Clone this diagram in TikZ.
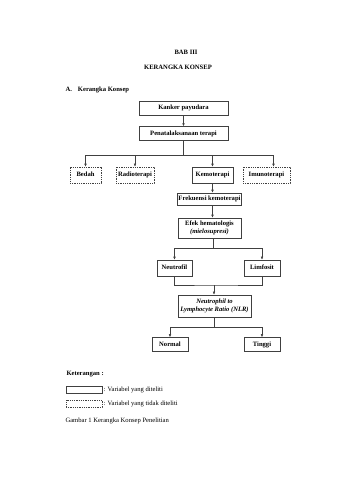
\documentclass[tikz,border=0pt]{standalone}
\usepackage{fontspec}
\setmainfont{Liberation Serif}
\usepackage{tikz}
\usetikzlibrary{arrows.meta,positioning}

\begin{document}
\begin{tikzpicture}[
x=1pt, y=-1pt,
font=\fontsize{6.6}{7.6}\selectfont,
box/.style={
rectangle,
draw=black!75,
line width=0.6pt,
inner sep=1pt,
minimum width=#1,
minimum height=15pt,
text height=4.6pt,
text depth=1.4pt,
align=center,
font=\fontsize{6.6}{7.6}\selectfont\bfseries
},
box/.default=40pt,
dbox/.style={
box=#1,
dash pattern=on 1pt off 0.8pt
},
dbox/.default=40pt,
twolines/.style={text height={}, text depth={}},
line/.style={draw=black!75, line width=0.45pt},
arrow/.style={line, -{Latex[length=3pt,width=2.6pt]}}
]
\useasboundingbox (0,0) rectangle (339,480);

% headings
\node[font=\fontsize{6.6}{7.6}\selectfont\bfseries] (bab) at (186,52) {BAB III};
\node[font=\fontsize{6.6}{7.6}\selectfont\bfseries] (judul) at (178,67) {KERANGKA KONSEP};
\node[anchor=west, font=\fontsize{6.6}{7.6}\selectfont\bfseries] (sub) at (62,90) {A.\hspace{6pt}Kerangka Konsep};

% diagram
\node[box=89pt, minimum height=14pt] (kanker) at (183.5,108) {Kanker payudara};
\node[box=89pt, minimum height=14pt, below=11pt of kanker] (terapi) {Penatalaksanaan terapi};

\node[dbox=31pt, minimum height=16pt] (bedah) at (85.5,175) {Bedah};
\node[dbox=38pt, minimum height=16pt] (radio) at (135,175) {Radioterapi};
\node[box=41pt, minimum height=16pt] (kemo) at (212.5,175) {Kemoterapi};
\node[dbox=47pt, minimum height=16pt] (imun) at (266.5,175) {Imunoterapi};

\node[box=63pt, minimum height=12pt] (frek) at (209.5,199) {Frekuensi kemoterapi};
\node[box=63pt, twolines, minimum height=20pt] (efek) at (209.5,228) {Efek hematologis\\\textit{(mielosupresi)}};

\node[box=35pt, minimum height=16pt] (neutro) at (174.5,268) {Neutrofil};
\node[box=36pt, minimum height=16pt] (limfo) at (262,268) {Limfosit};

\node[box=73pt, twolines, minimum height=22pt] (nlr) at (214.5,306) {\textit{Neutrophil to}\\\textit{Lymphocyte Ratio (NLR)}};

\node[box=36pt, minimum height=14pt] (normal) at (170,344.5) {Normal};
\node[box=36pt, minimum height=14pt] (tinggi) at (262,344.5) {Tinggi};

\coordinate (bus1) at (183.5,155);
\coordinate (bus2) at (213,248);
\coordinate (bus3) at (214,285);
\coordinate (bus4) at (214.5,327);

\draw[arrow] (kanker) -- (terapi);
\draw[line] (terapi) -- (bus1);
\draw[arrow] (bus1) -| (bedah.north);
\draw[arrow] (bus1) -| (radio.north);
\draw[arrow] (bus1) -| (kemo.north);
\draw[arrow] (bus1) -| ([xshift=7pt]imun.north);
\draw[arrow] (kemo.south) -- (kemo.south |- frek.north);
\draw[arrow] (kemo.south |- frek.south) -- (kemo.south |- efek.north);
\draw[line] (efek.south -| bus2) -- (bus2);
\draw[arrow] (bus2) -| (neutro.north);
\draw[arrow] (bus2) -| (limfo.north);
\draw[line] (neutro.south) |- (bus3) -| (limfo.south);
\draw[arrow] (bus3) -- (bus3 |- nlr.north);
\draw[line] (nlr.south) -- (bus4);
\draw[arrow] (bus4) -| (normal.north);
\draw[arrow] (bus4) -| (tinggi.north);

% keterangan
\node[anchor=west, font=\fontsize{6.6}{7.6}\selectfont\bfseries] (ket) at (63,374) {Keterangan :};
\node[box=36pt, minimum height=7pt, inner sep=0pt] (legditeliti) at (84,389.5) {};
\node[anchor=west, inner sep=1pt] (txtditeliti) at (legditeliti.east) {: Variabel yang diteliti};
\node[dbox=36pt, minimum height=7pt, inner sep=0pt] (legtidak) at (84,403.5) {};
\node[anchor=west, inner sep=1pt] (txttidak) at (legtidak.east) {: Variabel yang tidak diteliti};
\node[anchor=west] (gambar) at (62,421) {Gambar 1 Kerangka Konsep Penelitian};

\end{tikzpicture}
\end{document}
